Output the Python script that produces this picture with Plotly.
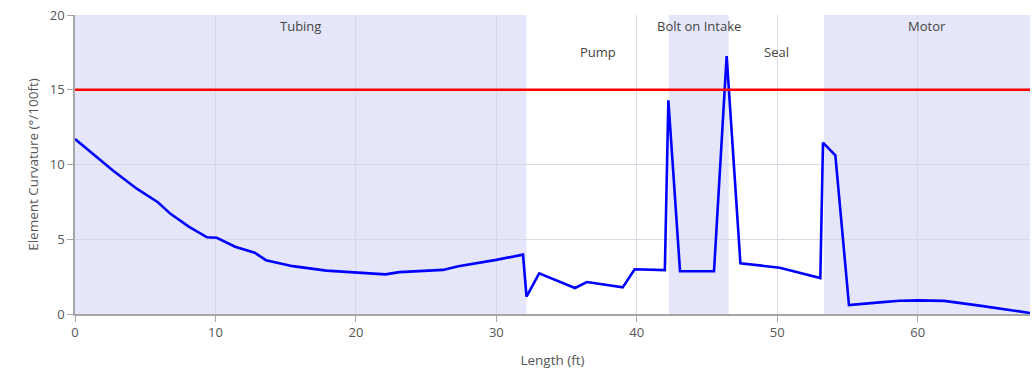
import plotly.graph_objects as go

# Element curvature along the string
length_ft = [0.0, 1.1, 2.7, 4.4, 5.9, 6.8, 8.1, 9.4, 10.1, 11.4, 12.8, 13.6,
             15.5, 17.9, 20.3, 22.1, 23.1, 26.2, 27.3, 28.4, 30.0, 31.9, 32.15,
             33.05, 35.6, 36.45, 39.0, 39.85, 42.0, 42.25, 43.08, 45.5, 46.4,
             47.38, 50.18, 53.07, 53.26, 54.14, 55.11, 57.3, 58.72, 60.0, 61.9,
             64.4, 68.0]
curvature = [11.7, 10.83, 9.6, 8.38, 7.48, 6.7, 5.85, 5.13, 5.1, 4.5, 4.1, 3.6,
             3.2, 2.9, 2.74, 2.65, 2.8, 2.95, 3.19, 3.35, 3.62, 3.97, 1.16,
             2.72, 1.74, 2.14, 1.78, 2.99, 2.94, 14.3, 2.86, 2.86, 17.25,
             3.39, 3.1, 2.41, 11.46, 10.61, 0.6, 0.78, 0.89, 0.91, 0.88,
             0.56, 0.07]

curvature_limit = 15.0

# Equipment sections: name, start, end, shaded, label row
sections = ["Tubing", "Pump", "Bolt on Intake", "Seal", "Motor"]
section_start = [0.0, 32.15, 42.28, 46.55, 53.33]
section_end = [32.15, 42.28, 46.55, 53.33, 68.0]
section_shaded = [True, False, True, False, True]
section_row = [0, 1, 0, 1, 0]

x_ticks = [0, 10, 20, 30, 40, 50, 60]
y_ticks = [0, 5, 10, 15, 20]

FONT = "Open Sans, Segoe UI, sans-serif"
TEXT = "#555555"
GRID = "#d9d9e3"
AXIS = "#a6a6a6"

fig = go.Figure()

fig.add_trace(go.Scatter(
    x=length_ft, y=curvature, mode="lines",
    line=dict(color="#0000ff", width=2.6),
    showlegend=False, hoverinfo="x+y",
))

fig.add_trace(go.Scatter(
    x=[0, section_end[-1]], y=[curvature_limit, curvature_limit], mode="lines",
    line=dict(color="#ff0000", width=2.6),
    showlegend=False, hoverinfo="skip",
))

shapes = []
annotations = []
for name, x0, x1, shaded, row in zip(sections, section_start, section_end,
                                      section_shaded, section_row):
    if shaded:
        shapes.append(dict(type="rect", xref="x", yref="paper",
                           x0=x0, x1=x1, y0=0, y1=1,
                           fillcolor="#e6e6fa", line=dict(width=0),
                           layer="below"))
    annotations.append(dict(x=(x0 + x1) / 2, y=0.963 if row == 0 else 0.877,
                            xref="x", yref="paper", text=name,
                            showarrow=False, xanchor="center", yanchor="middle",
                            font=dict(family=FONT, size=13, color="#444444")))

fig.update_layout(
    width=1036, height=373,
    margin=dict(l=75, r=6, t=15, b=59),
    paper_bgcolor="white", plot_bgcolor="white",
    shapes=shapes, annotations=annotations,
    font=dict(family=FONT, size=13, color=TEXT),
    xaxis=dict(
        range=[0, 68], tickvals=x_ticks, showgrid=True, gridcolor=GRID,
        gridwidth=1, zeroline=False, showline=True, linecolor=AXIS,
        linewidth=1.5, ticks="outside", ticklen=6, tickcolor=AXIS,
        tickfont=dict(family=FONT, size=13, color=TEXT),
        title=dict(text="Length (ft)", standoff=15,
                   font=dict(family=FONT, size=13.5, color=TEXT)),
    ),
    yaxis=dict(
        range=[0, 20], tickvals=y_ticks, showgrid=True, gridcolor=GRID,
        gridwidth=1, zeroline=False, showline=True, linecolor=AXIS,
        linewidth=1.5, ticks="outside", ticklen=6, tickcolor=AXIS,
        tickfont=dict(family=FONT, size=13, color=TEXT),
        title=dict(text="Element Curvature (°/100ft)", standoff=8,
                   font=dict(family=FONT, size=13.5, color=TEXT)),
    ),
)

fig.write_html("out.html")
